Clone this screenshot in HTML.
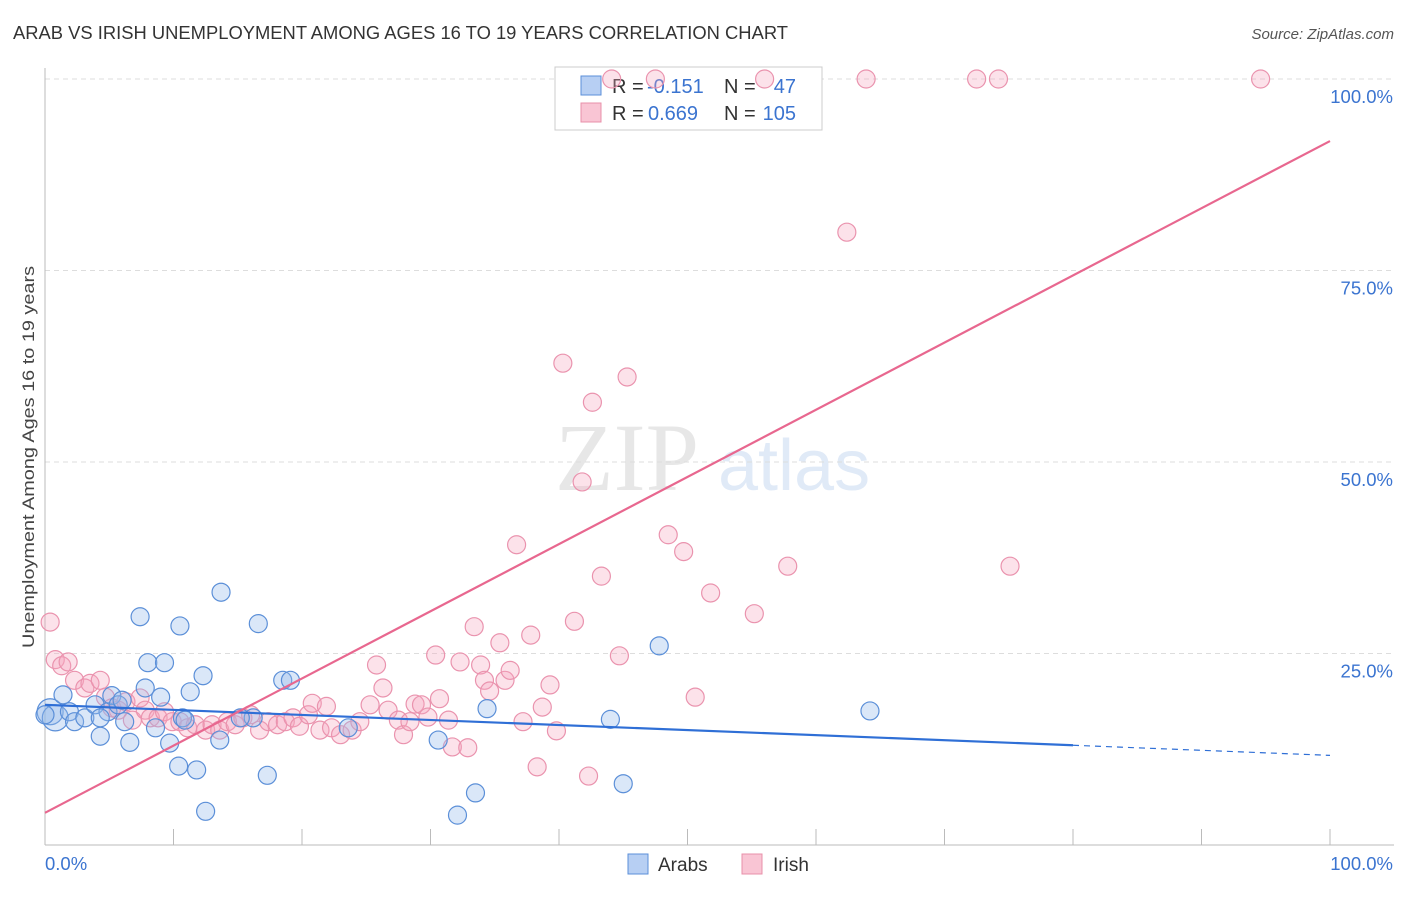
<!DOCTYPE html>
<html><head><meta charset="utf-8"><style>
body{margin:0;background:#fff;font-family:"Liberation Sans",sans-serif}
</style></head><body>
<svg id="chart" width="1406" height="892" xmlns="http://www.w3.org/2000/svg" font-family="Liberation Sans, sans-serif">
<text x="13" y="39" font-size="18" fill="#333" textLength="775" lengthAdjust="spacingAndGlyphs">ARAB VS IRISH UNEMPLOYMENT AMONG AGES 16 TO 19 YEARS CORRELATION CHART</text>
<text x="1394" y="39" font-size="15" fill="#555" text-anchor="end" font-style="italic">Source: ZipAtlas.com</text>
<text transform="translate(34,457) rotate(-90)" font-size="17" fill="#444" text-anchor="middle" textLength="382" lengthAdjust="spacingAndGlyphs">Unemployment Among Ages 16 to 19 years</text>
<g opacity="0.35">
<text x="555" y="490" font-size="96" font-family="Liberation Serif, serif" fill="#bbb">ZIP</text>
<text x="718" y="490" font-size="72" fill="#a9c4ea">atlas</text>
</g>
<g id="grid"></g><g id="axes"></g>
<g>
<rect x="555" y="67" width="267" height="63" fill="#fff" stroke="#ccc"/>
<rect x="581" y="76" width="20" height="19" fill="#b7cff3" stroke="#5b8fd8"/>
<rect x="581" y="103" width="20" height="19" fill="#f9c5d4" stroke="#e890aa"/>
<text x="612" y="93" font-size="20" fill="#333">R =</text>
<text x="647" y="93" font-size="20" fill="#3b74d0">-0.151</text>
<text x="724" y="93" font-size="20" fill="#333">N =</text>
<text x="796" y="93" font-size="20" fill="#3b74d0" text-anchor="end">47</text>
<text x="612" y="120" font-size="20" fill="#333">R =</text>
<text x="648" y="120" font-size="20" fill="#3b74d0">0.669</text>
<text x="724" y="120" font-size="20" fill="#333">N =</text>
<text x="796" y="120" font-size="20" fill="#3b74d0" text-anchor="end">105</text>
</g>
<g id="pts"></g><g id="lines"></g>
<g>
<rect x="628" y="854" width="20" height="20" fill="#b7cff3" stroke="#5b8fd8"/>
<text x="658" y="871" font-size="19" fill="#333">Arabs</text>
<rect x="742" y="854" width="20" height="20" fill="#f9c5d4" stroke="#e890aa"/>
<text x="773" y="871" font-size="19" fill="#333">Irish</text>
</g>
</svg>
<script>
const yTicks=[25,50,75,100];
const yTickLabels=["25.0%","50.0%","75.0%","100.0%"];
const xTicks=[0,10,20,30,40,50,60,70,80,90,100];
const arabX=[0.4,0.8,1.4,1.9,2.3,3.1,3.9,4.3,4.9,5.2,5.7,6.2,6.6,7.4,7.8,8.0,8.6,9.0,9.3,9.7,10.4,10.5,10.7,11.3,11.8,12.3,12.5,13.6,16.2,16.6,17.3,18.5,19.1,23.6,30.6,32.1,33.5,34.4,44.0,45.0,47.8,64.2,13.7,0,15.2,4.3,6.0,10.9];
const arabY=[17.4,16.6,19.6,17.4,16.1,16.6,18.3,14.2,17.4,19.5,18.3,16.1,13.4,29.8,20.5,23.8,15.3,19.3,23.8,13.3,10.3,28.6,16.6,20.0,9.8,22.1,4.4,13.7,16.6,28.9,9.1,21.5,21.5,15.3,13.7,3.9,6.8,17.8,16.4,8.0,26.0,17.5,33.0,17,16.6,16.6,18.9,16.3];
const irishX=[0.4,0.8,1.3,1.8,2.3,3.1,3.5,4.3,4.7,5.2,5.7,6.3,6.8,7.4,7.8,8.2,8.8,9.3,9.9,10.5,11.1,11.7,12.5,13.0,13.6,14.2,14.8,15.4,16.0,16.7,17.4,18.1,18.7,19.3,19.8,20.5,20.8,21.4,21.9,22.3,23.0,23.9,24.5,25.3,25.8,26.3,26.7,27.5,27.9,28.4,28.8,29.3,29.8,30.4,30.7,31.4,31.7,32.3,32.9,33.4,33.9,34.2,34.6,35.4,35.8,36.2,36.7,37.2,37.8,38.3,38.7,39.3,39.8,40.3,41.2,41.8,42.3,42.6,43.3,44.7,45.3,48.5,49.7,50.6,51.8,55.2,57.8,62.4,63.9,72.5,74.2,75.1,94.6,44.1,47.5,56.0];
const irishY=[29.1,24.2,23.4,23.9,21.5,20.5,21.1,21.5,19.3,17.9,17.6,18.7,16.3,19.2,17.6,16.6,16.6,17.4,16.1,16.1,15.3,15.7,15.0,15.7,15.0,16.1,15.7,16.6,17.0,15.0,16.1,15.7,16.1,16.6,15.5,17.0,18.5,15.0,18.1,15.3,14.4,15.0,16.1,18.3,23.5,20.5,17.6,16.3,14.4,16.1,18.4,18.3,16.7,24.8,19.1,16.3,12.8,23.9,12.7,28.5,23.5,21.5,20.1,26.4,21.5,22.8,39.2,16.1,27.4,10.2,18.0,20.9,14.9,62.9,29.2,47.4,9.0,57.8,35.1,24.7,61.1,40.5,38.3,19.3,32.9,30.2,36.4,80.0,100,100,100,36.4,100,100,100,100];
const arabTrend=[18.3,11.7];
const irishTrend=[4.2,91.9];
const NS="http://www.w3.org/2000/svg";
const X=v=>45+v*12.85, Y=v=>845-v*7.66;
function mk(t,a,p){const e=document.createElementNS(NS,t);for(const k in a)e.setAttribute(k,a[k]);document.getElementById(p).appendChild(e);return e;}
yTicks.forEach((t,i)=>{
 const g=mk('line',{x1:45,x2:1394,y1:Y(t),y2:Y(t),stroke:'#ddd','stroke-dasharray':'5,4'},'grid');
 
 
 const l=mk('text',{x:1393,y:Y(t)+24,'font-size':18.5,fill:'#3b74d0','text-anchor':'end'},'axes');
 l.textContent=yTickLabels[i];
 
 
});
let ax=mk('line',{x1:45,x2:45,y1:68,y2:845,stroke:'#bbb'},'axes');


ax=mk('line',{x1:45,x2:1394,y1:845,y2:845,stroke:'#bbb'},'axes');


xTicks.forEach(t=>{
 const k=mk('line',{x1:X(t),x2:X(t),y1:829,y2:845,stroke:'#bbb'},'axes');
 
 
});
let t0=mk('text',{x:45,y:870,'font-size':18.5,fill:'#3b74d0'},'axes');t0.textContent='0.0%';


let t1=mk('text',{x:1393,y:870,'font-size':18.5,fill:'#3b74d0','text-anchor':'end'},'axes');t1.textContent='100.0%';


irishX.forEach((x,i)=>{
 const c=mk('circle',{cx:X(x),cy:Y(irishY[i]),r:9,fill:'rgba(245,165,190,0.32)',stroke:'#ea93ae','stroke-width':1.2},'pts');
 
 
});
arabX.forEach((x,i)=>{
 const c=mk('circle',{cx:X(x),cy:Y(arabY[i]),r:i<2?13:9,fill:'rgba(150,185,235,0.35)',stroke:'#5b8fd8','stroke-width':1.2},'pts');
 
 
});
const ay=x=>arabTrend[0]+(arabTrend[1]-arabTrend[0])*x/100;
let l1=mk('line',{x1:X(0),y1:Y(ay(0)),x2:X(80),y2:Y(ay(80)),stroke:'#2f6fd6','stroke-width':2.2},'lines');


let l2=mk('line',{x1:X(80),y1:Y(ay(80)),x2:X(100),y2:Y(ay(100)),stroke:'#2f6fd6','stroke-width':1.2,'stroke-dasharray':'6,5'},'lines');


let l3=mk('line',{x1:X(0),y1:Y(irishTrend[0]),x2:X(100),y2:Y(irishTrend[1]),stroke:'#e8678f','stroke-width':2.2},'lines');


</script>
</body></html>
